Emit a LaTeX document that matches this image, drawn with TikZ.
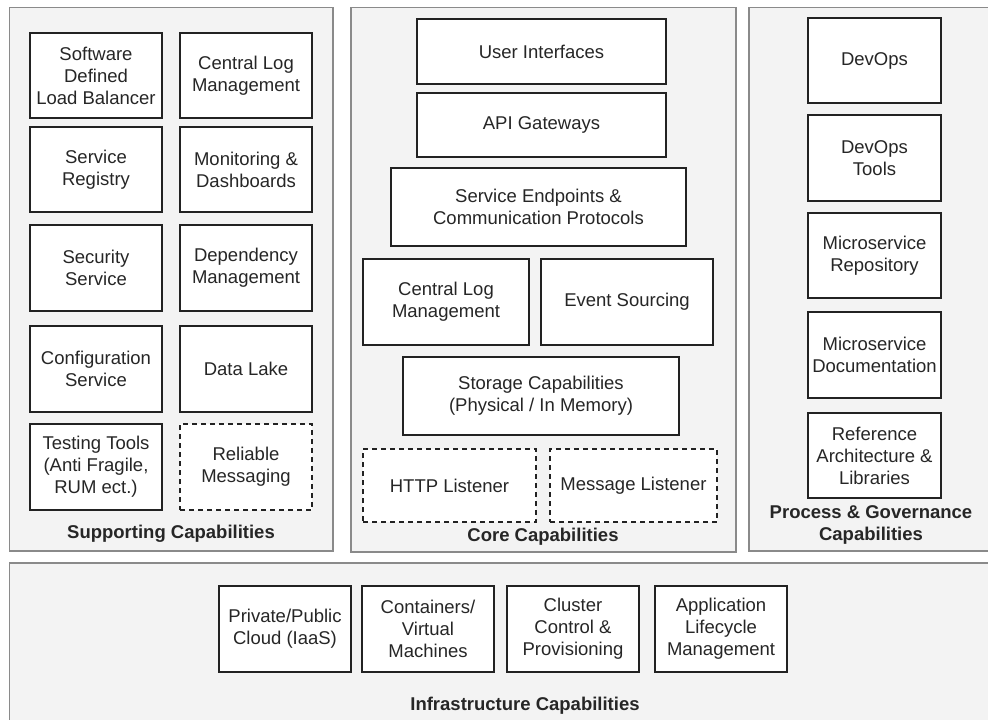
\documentclass[tikz,border=0pt]{standalone}
\usepackage{fontspec}
\setmainfont{Liberation Sans}
\begin{document}
\begin{tikzpicture}[x=1pt,y=-1pt,
  panel/.style={draw=panelline,fill=panelfill,line width=1.4pt},
  capbox/.style={draw=boxline,fill=white,line width=1.3pt,align=center,inner sep=0pt,
    text=txt,font=\fontsize{18.5}{22}\selectfont},
  optbox/.style={capbox,dashed,dash pattern=on 5pt off 4pt},
  paneltitle/.style={align=center,text=txt,inner sep=0pt,font=\fontsize{18.5}{22}\selectfont\bfseries},
  sw/.style={minimum width=132pt},
]
\definecolor{panelfill}{HTML}{F3F3F3}
\definecolor{panelline}{HTML}{8A8A8A}
\definecolor{boxline}{HTML}{222222}
\definecolor{txt}{HTML}{262626}
\useasboundingbox (0,0) rectangle (988,720);
\clip (0,0) rectangle (988,720);
\fill[white] (0,0) rectangle (988,720);

% capability panels
\draw[panel] (9.5,7.5) rectangle (333,551);
\draw[panel] (351,7.5) rectangle (736,552);
\draw[panel] (749,7.5) rectangle (1000,551);
\draw[panel] (9.5,563) rectangle (1000,740);

% supporting capabilities
\node[capbox,sw,minimum height=85pt] (slb) at (96,75.5) {Software\\Defined\\Load Balancer};
\node[capbox,sw,minimum height=85pt] (slog) at (246,75.5) {Central Log\\Management};
\node[capbox,sw,minimum height=85pt] (sreg) at (96,169.5) {Service\\Registry};
\node[capbox,sw,minimum height=85pt] (smon) at (246,169.5) {Monitoring \&\\Dashboards};
\node[capbox,sw,minimum height=86pt] (ssec) at (96,268) {Security\\Service};
\node[capbox,sw,minimum height=86pt] (sdep) at (246,268) {Dependency\\Management};
\node[capbox,sw,minimum height=86pt] (scfg) at (96,369) {Configuration\\Service};
\node[capbox,sw,minimum height=86pt] (slake) at (246,369) {Data Lake};
\node[capbox,sw,minimum height=86pt] (stest) at (96,467) {Testing Tools\\(Anti Fragile,\\RUM ect.)};
\node[optbox,sw,minimum height=86pt] (smsg) at (246,467) {Reliable\\Messaging};
\node[paneltitle] (tsup) at (171,534) {Supporting Capabilities};

% core capabilities
\node[capbox,minimum width=249pt,minimum height=65pt] (cui) at (541.5,51.5) {User Interfaces};
\node[capbox,minimum width=249pt,minimum height=64pt] (capi) at (541.5,125) {API Gateways};
\node[capbox,minimum width=295pt,minimum height=78pt] (cep) at (538.5,207) {Service Endpoints \&\\Communication Protocols};
\node[capbox,minimum width=166pt,minimum height=86pt] (clog) at (446,302) {Central Log\\Management};
\node[capbox,minimum width=172pt,minimum height=86pt] (cev) at (627,302) {Event Sourcing};
\node[capbox,minimum width=276pt,minimum height=78pt] (cst) at (541,396) {Storage Capabilities\\(Physical / In Memory)};
\node[optbox,minimum width=173pt,minimum height=73pt] (chttp) at (449.5,485.5) {HTTP Listener};
\node[optbox,minimum width=167pt,minimum height=73pt] (cmsg) at (633.5,485.5) {Message Listener};
\node[paneltitle] (tcore) at (543,537) {Core Capabilities};

% process & governance capabilities
\node[capbox,minimum width=133pt,minimum height=85pt] (pdev) at (874.5,60.5) {DevOps};
\node[capbox,minimum width=133pt,minimum height=86pt] (ptools) at (874.5,158) {DevOps\\Tools};
\node[capbox,minimum width=133pt,minimum height=85pt] (prepo) at (874.5,255.5) {Microservice\\Repository};
\node[capbox,minimum width=133pt,minimum height=86pt] (pdoc) at (874.5,355) {Microservice\\Documentation};
\node[capbox,minimum width=133pt,minimum height=85pt] (pref) at (874.5,455.5) {Reference\\Architecture \&\\Libraries};
\node[paneltitle] (tproc) at (871,524.5) {Process \& Governance\\Capabilities};

% infrastructure capabilities
\node[capbox,sw,minimum height=86pt] (icloud) at (285,629) {Private/Public\\Cloud (IaaS)};
\node[capbox,sw,minimum height=86pt] (icont) at (428,629) {Containers/\\Virtual\\Machines};
\node[capbox,sw,minimum height=86pt] (iclus) at (573,629) {Cluster\\Control \&\\Provisioning};
\node[capbox,sw,minimum height=86pt] (iapp) at (721,629) {Application\\Lifecycle\\Management};
\node[paneltitle] (tinf) at (525,706) {Infrastructure Capabilities};
\end{tikzpicture}
\end{document}
